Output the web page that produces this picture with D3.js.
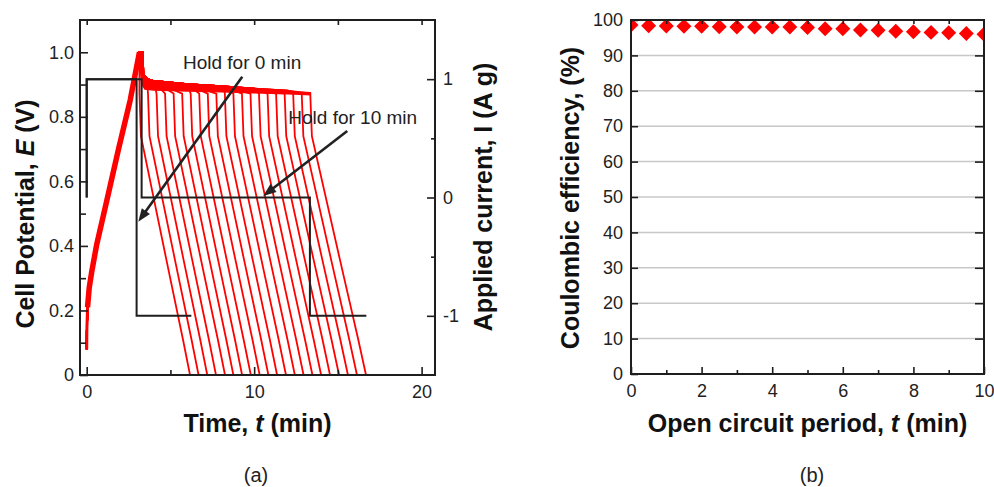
<!DOCTYPE html>
<html lang="en">
<head>
<meta charset="UTF-8">
<title>Cell potential and Coulombic efficiency</title>
<script src="https://d3js.org/d3.v7.min.js"></script>
<style>
  body { margin: 0; background: #fff; }
  svg { display: block; font-family: "Liberation Sans", Arial, sans-serif; }
  .tick-label { font-size: 18px; fill: #222; }
  .axis-title { font-size: 25px; font-weight: bold; fill: #111; }
  .note { font-size: 19px; fill: #222; }
  .panel-tag { font-size: 20px; fill: #222; }
</style>
</head>
<body>
<svg id="chart" width="994" height="487"></svg>
<script>
// ---------- panel (a): galvanostatic cycles with open-circuit holds ----------
const holdMinutes = [0, 0.5, 1, 1.5, 2, 2.5, 3, 3.5, 4, 4.5, 5, 5.5, 6, 6.5, 7, 7.5, 8, 8.5, 9, 9.5, 10];
// time (min) at which each discharge begins / reaches 0 V
const dischargeStart = [3.15, 3.66, 4.17, 4.68, 5.19, 5.70, 6.21, 6.72, 7.23, 7.74, 8.25,
                        8.76, 9.27, 9.78, 10.29, 10.80, 11.31, 11.82, 12.33, 12.84, 13.35];
const dischargeEnd = [6.17, 6.68, 7.2, 7.72, 8.26, 8.76, 9.28, 9.8, 10.33, 10.85, 11.37,
                      11.9, 12.43, 12.95, 13.48, 14.0, 14.53, 15.07, 15.6, 16.14, 16.68];

// shared charging branch [t, E]
const chargeCurve = [[0, 0.08], [0.01, 0.14], [0.05, 0.21], [0.15, 0.27], [0.3, 0.32],
                     [0.6, 0.405], [1.2, 0.54], [1.9, 0.70], [2.6, 0.852], [3.15, 1.0]];
// relaxation during the hold, upper and lower edge of the bundle [t, E]
const relaxTop = [[3.05, 1.0], [3.35, 1.0], [3.38, 0.93], [3.6, 0.918], [4.0, 0.911], [6.0, 0.901],
                  [8.2, 0.894], [10, 0.887], [12, 0.881], [13.4, 0.877]];
const relaxBottom = [[3.25, 0.9], [3.45, 0.884], [4.0, 0.881], [6.0, 0.878], [8.0, 0.875],
                     [10, 0.872], [12, 0.869], [13.4, 0.866]];
// discharge branch of the 10 min curve, time measured from its start [dt, E]
const dischargeProfile = [[0, 0.872], [0.1, 0.74], [1.8, 0.356], [2.9, 0.11], [3.37, 0]];

// applied current [t, I]
const currentHold0 = [[0, 0], [0, 1], [2.98, 1], [2.98, -1], [6.25, -1]];
const currentHold10 = [[0, 0], [0, 1], [3.28, 1], [3.28, 0], [13.33, 0], [13.33, -1], [16.7, -1]];

// annotations: text anchor [t, E] and arrow [from, to] in data units
const notes = [
  { text: "Hold for 0 min", at: [5.75, 0.947], from: [9.29, 0.924], to: [3.08, 0.475] },
  { text: "Hold for 10 min", at: [12.04, 0.778], from: [15.56, 0.756], to: [10.54, 0.555] }
];

// ---------- panel (b): Coulombic efficiency ----------
const openCircuit = [0, 0.5, 1, 1.5, 2, 2.5, 3, 3.5, 4, 4.5, 5, 5.5, 6, 6.5, 7, 7.5, 8, 8.5, 9, 9.5, 10];
const efficiency = [98.6, 98.4, 98.3, 98.2, 98.2, 98.1, 98.0, 98.0, 98.0, 98.0, 97.9,
                    97.5, 97.5, 97.2, 97.1, 96.8, 96.7, 96.5, 96.4, 96.2, 96.0];

const red = "#ff0000", ink = "#1e1e1e";
const svg = d3.select("#chart");
const defs = svg.append("defs");

function tidy(g, width) {
  g.select(".domain").remove();
  g.attr("font-size", null).attr("font-family", null);
  g.selectAll("line").attr("stroke", ink).attr("stroke-width", width || 1.6);
  g.selectAll("text").attr("class", "tick-label").attr("fill", ink);
  return g;
}

// ================= panel (a) =================
const A = { left: 80, right: 435, top: 20, bottom: 375 };
const x = d3.scaleLinear().domain([-0.4, 20.8]).range([A.left, A.right]);
const yE = d3.scaleLinear().domain([0, 1.1]).range([A.bottom, A.top]);
const yI = d3.scaleLinear().domain([-1.5, 1.5]).range([A.bottom, A.top]);

defs.append("clipPath").attr("id", "clipA").append("rect")
  .attr("x", A.left).attr("y", A.top).attr("width", A.right - A.left).attr("height", A.bottom - A.top);

const pa = svg.append("g").attr("clip-path", "url(#clipA)");
const lineE = d3.line().x(d => x(d[0])).y(d => yE(d[1]));
const lineI = d3.line().x(d => x(d[0])).y(d => yI(d[1]));

// bundle of overlapping hold segments
pa.append("path")
  .attr("d", lineE(relaxTop.concat(relaxBottom.slice().reverse())) + "Z")
  .attr("fill", red);

// one potential curve per hold time
const chargeEnd = chargeCurve[chargeCurve.length - 1][0];
const curves = holdMinutes.map((h, i) => {
  const s = dischargeStart[i];
  const k = (dischargeEnd[i] - s) / dischargeProfile[dischargeProfile.length - 1][0];
  const hold = relaxTop.filter(p => p[0] > chargeEnd && p[0] < s);
  const dis = dischargeProfile.map(p => [s + p[0] * k, p[1]]);
  return chargeCurve.concat(hold, dis);
});
pa.selectAll("path.cycle").data(curves).join("path")
  .attr("class", "cycle")
  .attr("d", lineE)
  .attr("fill", "none")
  .attr("stroke", red)
  .attr("stroke-width", 1.8);

// the charging branches overlap into a thicker band above ~0.2 V
pa.append("path")
  .attr("d", lineE(chargeCurve.slice(2)))
  .attr("fill", "none")
  .attr("stroke", red)
  .attr("stroke-width", 5.5)
  .attr("stroke-linejoin", "round");
pa.append("path")
  .attr("d", lineE(chargeCurve.slice(0, 3)))
  .attr("fill", "none")
  .attr("stroke", red)
  .attr("stroke-width", 3);

// applied current
[currentHold0, currentHold10].forEach(c => {
  pa.append("path").attr("d", lineI(c))
    .attr("fill", "none").attr("stroke", ink).attr("stroke-width", 2);
});

// axes (a)
tidy(svg.append("g").attr("transform", `translate(${A.left},0)`)
  .call(d3.axisLeft(yE).tickValues([0, 0.2, 0.4, 0.6, 0.8, 1.0])
    .tickFormat(d => d === 0 ? "0" : d3.format(".1f")(d)).tickSize(-8).tickPadding(6)));
tidy(svg.append("g").attr("transform", `translate(${A.left},0)`)
  .call(d3.axisLeft(yE).tickValues([0.1, 0.3, 0.5, 0.7, 0.9]).tickFormat("").tickSize(-6)));
tidy(svg.append("g").attr("transform", `translate(${A.right},0)`)
  .call(d3.axisRight(yI).tickValues([-1, 0, 1]).tickFormat(d => String(d)).tickSize(-8).tickPadding(8)));
tidy(svg.append("g").attr("transform", `translate(${A.right},0)`)
  .call(d3.axisRight(yI).tickValues([-0.5, 0.5]).tickFormat("").tickSize(-4)));
tidy(svg.append("g").attr("transform", `translate(0,${A.bottom})`)
  .call(d3.axisBottom(x).tickValues([0, 10, 20]).tickSize(-8).tickPadding(10)));
tidy(svg.append("g").attr("transform", `translate(0,${A.bottom})`)
  .call(d3.axisBottom(x).tickValues([5, 15]).tickFormat("").tickSize(-5)));
tidy(svg.append("g").attr("transform", `translate(0,${A.top})`)
  .call(d3.axisTop(x).tickValues([0, 5, 10, 15, 20]).tickFormat("").tickSize(-5)));

svg.append("rect")
  .attr("x", A.left).attr("y", A.top).attr("width", A.right - A.left).attr("height", A.bottom - A.top)
  .attr("fill", "none").attr("stroke", ink).attr("stroke-width", 2);

// annotations with arrows
notes.forEach(n => {
  svg.append("text").attr("class", "note")
    .attr("x", x(n.at[0])).attr("y", yE(n.at[1])).text(n.text);
  const x0 = x(n.from[0]), y0 = yE(n.from[1]);
  const x1 = x(n.to[0]), y1 = yE(n.to[1]);
  const len = Math.hypot(x1 - x0, y1 - y0), ux = (x1 - x0) / len, uy = (y1 - y0) / len;
  const head = 13, half = 5;
  const bx = x1 - ux * head, by = y1 - uy * head;
  svg.append("line")
    .attr("x1", x0).attr("y1", y0).attr("x2", bx + ux * 2).attr("y2", by + uy * 2)
    .attr("stroke", "#222").attr("stroke-width", 2.6);
  svg.append("path")
    .attr("d", `M${x1},${y1}L${bx - uy * half},${by + ux * half}L${bx + uy * half},${by - ux * half}Z`)
    .attr("fill", "#222");
});

// titles (a)
const ta = svg.append("text").attr("class", "axis-title")
  .attr("transform", "translate(34,214) rotate(-90)").attr("text-anchor", "middle");
ta.append("tspan").text("Cell Potential, ");
ta.append("tspan").attr("font-style", "italic").text("E");
ta.append("tspan").text(" (V)");

svg.append("text").attr("class", "axis-title")
  .attr("transform", "translate(492,197) rotate(-90)").attr("text-anchor", "middle")
  .text("Applied current, I (A g)");

const tb = svg.append("text").attr("class", "axis-title")
  .attr("x", (A.left + A.right) / 2).attr("y", 432).attr("text-anchor", "middle");
tb.append("tspan").text("Time, ");
tb.append("tspan").attr("font-style", "italic").text("t");
tb.append("tspan").text(" (min)");

svg.append("text").attr("class", "panel-tag")
  .attr("x", 256).attr("y", 482).attr("text-anchor", "middle").text("(a)");

// ================= panel (b) =================
const B = { left: 631, right: 984, top: 20, bottom: 374 };
const xb = d3.scaleLinear().domain([0, 10]).range([B.left, B.right]);
const yb = d3.scaleLinear().domain([0, 100]).range([B.bottom, B.top]);

defs.append("clipPath").attr("id", "clipB").append("rect")
  .attr("x", B.left).attr("y", B.top).attr("width", B.right - B.left).attr("height", B.bottom - B.top);

// grid
svg.append("g").selectAll("line").data(d3.range(10, 100, 10)).join("line")
  .attr("x1", B.left).attr("x2", B.right)
  .attr("y1", d => yb(d)).attr("y2", d => yb(d))
  .attr("stroke", "#c8c8c8").attr("stroke-width", 1.5);

// diamonds
svg.append("g").attr("clip-path", "url(#clipB)")
  .selectAll("path").data(openCircuit).join("path")
  .attr("d", d3.symbol().type(d3.symbolSquare).size(112))
  .attr("transform", (d, i) => `translate(${xb(d)},${yb(efficiency[i])}) rotate(45)`)
  .attr("fill", red);

tidy(svg.append("g").attr("transform", `translate(${B.left},0)`)
  .call(d3.axisLeft(yb).tickValues(d3.range(0, 101, 10)).tickSize(-7).tickPadding(8)));
tidy(svg.append("g").attr("transform", `translate(${B.right},0)`)
  .call(d3.axisRight(yb).tickValues(d3.range(10, 100, 10)).tickFormat("").tickSize(-9)));
tidy(svg.append("g").attr("transform", `translate(0,${B.bottom})`)
  .call(d3.axisBottom(xb).tickValues([0, 2, 4, 6, 8, 10]).tickSize(-7).tickPadding(10)));
tidy(svg.append("g").attr("transform", `translate(0,${B.bottom})`)
  .call(d3.axisBottom(xb).tickValues([1, 3, 5, 7, 9]).tickFormat("").tickSize(-4)));
tidy(svg.append("g").attr("transform", `translate(0,${B.top})`)
  .call(d3.axisTop(xb).tickValues(d3.range(1, 10)).tickFormat("").tickSize(-4)));

svg.append("rect")
  .attr("x", B.left).attr("y", B.top).attr("width", B.right - B.left).attr("height", B.bottom - B.top)
  .attr("fill", "none").attr("stroke", ink).attr("stroke-width", 2);

svg.append("text").attr("class", "axis-title")
  .attr("transform", "translate(579,198) rotate(-90)").attr("text-anchor", "middle")
  .text("Coulombic efficiency, (%)");

const tc = svg.append("text").attr("class", "axis-title")
  .attr("x", (B.left + B.right) / 2).attr("y", 432).attr("text-anchor", "middle");
tc.append("tspan").text("Open circuit period, ");
tc.append("tspan").attr("font-style", "italic").text("t");
tc.append("tspan").text(" (min)");

svg.append("text").attr("class", "panel-tag")
  .attr("x", 812).attr("y", 482).attr("text-anchor", "middle").text("(b)");
</script>
</body>
</html>
